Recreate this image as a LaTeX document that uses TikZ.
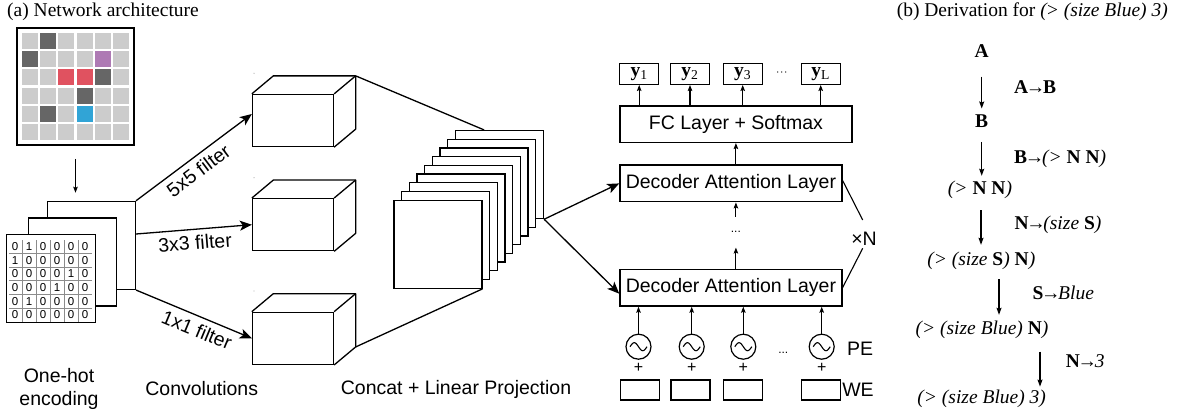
\documentclass[tikz,border=0pt]{standalone}
\usepackage{fontspec}
\setmainfont{Liberation Serif}
\newfontfamily\arial{Liberation Sans}
\usetikzlibrary{arrows.meta,calc}
\definecolor{cellgrey}{HTML}{CCCCCC}
\definecolor{celldark}{HTML}{666666}
\definecolor{cellpurple}{HTML}{AE7AB4}
\definecolor{cellred}{HTML}{E05260}
\definecolor{cellblue}{HTML}{31A4D6}
\definecolor{gridgrey}{HTML}{8C8C8C}
\newcommand\rarr{\kern-0.12em→\kern-0.12em}
\tikzset{
 ln/.style={line width=1.3pt},
 bigarr/.style={ln,-{Stealth[length=12pt,width=10pt,inset=3pt]}},
 smallarr/.style={line width=1.1pt,-{Stealth[length=6pt,width=4.5pt,inset=1pt]}},
 darr/.style={line width=1.1pt,-{Stealth[length=7pt,width=5pt,inset=1pt]}},
 box/.style={draw,ln,fill=white,inner sep=0pt},
 sans/.style={font=\arial\fontsize{19.5}{23}\selectfont},
 serif/.style={font=\rmfamily\fontsize{19.5}{23}\selectfont},
 deriv/.style={serif,inner sep=0pt,text height=13.5pt,text depth=4.5pt},
 gridline/.style={draw=gridgrey,line width=0.8pt},
 digit/.style={font=\arial\fontsize{11.5}{13}\selectfont,inner sep=0pt},
}
\begin{document}
\begin{tikzpicture}[x=1pt,y=-1pt]
\useasboundingbox (0,0) rectangle (1177,412);

% titles
\node[serif,anchor=west,inner sep=0pt] (ta) at (7,12) {(a) Network architecture};
\node[serif,anchor=east,inner sep=0pt] (tb) at (1168,12) {(b) Derivation for \textit{(\kern-0.05em> (size Blue) 3)}};

% coloured input grid
\node[draw,line width=1.7pt,minimum width=117pt,minimum height=117pt,inner sep=0pt] (img) at (75.5,86.5) {};
\foreach \r in {0,...,5}{\foreach \c in {0,...,5}{
  \fill[cellgrey] (21.65+18.3*\c,32.65+18.3*\r) rectangle ++(16.2,16.2);}}
\foreach \r/\c/\col in {0/1/celldark,1/0/celldark,1/4/cellpurple,2/2/cellred,2/3/cellred,2/4/celldark,3/3/celldark,4/1/celldark,4/3/cellblue}{
  \fill[\col] (21.65+18.3*\c,32.65+18.3*\r) rectangle ++(16.2,16.2);}

% one-hot stack
\node[box,minimum width=88pt,minimum height=88pt] (ohb) at (91.4,245.4) {};
\node[box,minimum width=88pt,minimum height=88pt] (ohm) at (72.4,262) {};
\node[box,minimum width=89pt,minimum height=88pt] (ohf) at (51.2,278.5) {};
\foreach \i in {1,...,5}{
  \draw[gridline] (8+14*\i,240) -- (8+14*\i,321.5);
  \draw[gridline] (9,239.5+13.7*\i) -- (91.5,239.5+13.7*\i);}
\foreach \row [count=\r from 0] in {{0,1,0,0,0,0},{1,0,0,0,0,0},{0,0,0,0,1,0},{0,0,0,1,0,0},{0,1,0,0,0,0},{0,0,0,0,0,0}}{
  \foreach \d [count=\c from 0] in \row {
    \node[digit] (m\r\c) at (15+14*\c,246.4+13.7*\r) {\d};}}

\draw[smallarr,shorten <=13pt,shorten >=8pt] (img.south) -- (img.south |- ohb.north);

% cuboids
\foreach \n/\y/\dy in {cub1/120.5/73.3, cub2/224.7/177.7, cub3/338.3/291}{
  \node[box,minimum width=81pt,minimum height=52pt] (\n) at (293,\y) {};
  \draw[ln,line join=round] (\n.north west) -- ++(21.5,-18) -- ($(\n.north east)+(21.5,-18)$) -- ($(\n.south east)+(21.5,-18)$) -- (\n.south east);
  \draw[ln] (\n.north east) -- ++(21.5,-18);
  \fill[gray!55] (254,\dy) circle (0.7pt);
}

% filter arrows
\draw[bigarr] (ohb.north east) -- node[sans,sloped,below,pos=0.47,inner sep=5.5pt] (l5) {5x5 filter} ([yshift=6.5pt]cub1.west);
\draw[bigarr] ([yshift=11.4pt]ohb.east) -- node[sans,sloped,below,pos=0.5,inner sep=5.5pt] (l3) {3x3 filter} (cub2.west);
\draw[bigarr] (ohb.south east) -- node[sans,sloped,below,pos=0.57,inner sep=5.5pt] (l1) {1x1 filter} (cub3.west);

% stacked planes
\foreach \k in {8,7,...,0}{
  \node[box,minimum width=88pt,minimum height=88pt] (pl\k) at (437.9+7.7*\k,244.2-8.7*\k) {};}
\draw[ln] ($(cub1.north east)+(21.5,-18)$) -- ($(pl8.north west)+(29.3,0)$);
\draw[ln] ($(cub3.south east)+(21.5,-18)$) -- (pl0.south east);

% decoder
\node[box,sans,minimum width=222pt,minimum height=36.7pt] (dec1) at (730.9,183.4) {Decoder Attention Layer};
\node[box,sans,minimum width=222pt,minimum height=36.7pt] (dec2) at (730.9,287.7) {Decoder Attention Layer};
\node[box,sans,minimum width=232pt,minimum height=36.3pt] (fc) at (735.9,124.2) {FC Layer + Softmax};
\draw[bigarr] (pl8.south east) -- (dec1.west);
\draw[bigarr] (pl8.south east) -- ([yshift=-6pt]dec2.west);
\draw[smallarr] (dec1.north -| fc.south) -- (fc.south);
\node[font=\arial\fontsize{12}{14}\selectfont,minimum height=30.3pt,inner sep=0pt] (vd) at (735.9,232.2) {...};
\draw[smallarr] (vd.north) -- (vd.north |- dec1.south);
\draw[smallarr] (vd.south |- dec2.north) -- (vd.south);

\node[sans,inner sep=0pt] (xN) at (864,238.3) {×N};
\coordinate (xNt) at (862.7,220);
\coordinate (xNb) at (862.7,248.3);
\draw[line width=1.1pt] ([yshift=3pt]dec1.east) -- (xNt);
\draw[line width=1.1pt] (xNb) -- (dec2.east);

% outputs
\foreach \n/\x/\s in {y1/639.2/1, y2/690/2, y3/742.7/3, yL/820.7/L}{
  \node[box,serif,minimum width=39pt,minimum height=21pt] (\n) at (\x,73.8) {\textbf{y}\textsubscript{\s}};
  \draw[smallarr] (\n.south |- fc.north) -- (\n.south);}
\node[font=\arial\fontsize{12}{14}\selectfont,inner sep=0pt] (ydots) at (781.7,73) {$\cdot\!\cdot\!\cdot$};

% positional encodings + word embeddings
\foreach \n/\x/\w in {1/638.5/639.7, 2/691.7/690.5, 3/743.3/742.7, 4/821.7/821.2}{
  \node[draw,circle,line width=1.2pt,minimum size=25pt,inner sep=0pt] (pe\n) at (\x,346.7) {};
  \draw[line width=1.1pt,shift={(pe\n.center)}] plot[domain=-8.5:8.5,samples=41,smooth] (\x,{-4*sin(21.18*(\x+8.5))});
  \draw[smallarr] (pe\n.north) -- (pe\n.north |- dec2.south);
  \node[font=\arial\fontsize{16}{18}\selectfont,inner sep=0pt] (plus\n) at (\x,368.3) {+};
  \node[box,minimum width=39pt,minimum height=20pt] (we\n) at (\w,390) {};}
\node[font=\arial\fontsize{12}{14}\selectfont,inner sep=0pt] (pedots) at (783.3,353) {...};
\node[sans,inner sep=0pt] (pelab) at (860,348.3) {PE};
\node[sans,inner sep=0pt] (welab) at (858,390) {WE};

% bottom captions
\node[sans,align=center,inner sep=0pt] (cap1) at (59,389) {One-hot\\encoding};
\node[sans,inner sep=0pt] (cap2) at (201.7,388.3) {Convolutions};
\node[sans,inner sep=0pt] (cap3) at (456,389.3) {Concat + Linear Projection};

% derivation
\node[deriv] (dA) at (981.7,53.3) {\textbf{A}};
\node[deriv] (dB) at (981.7,122.7) {\textbf{B}};
\node[deriv] (d3) at (980,190) {\textit{(> \textup{\textbf{N N}})}};
\node[deriv] (d4) at (981.3,261) {\textit{(> (size \textup{\textbf{S}}) \textup{\textbf{N}})}};
\node[deriv] (d5) at (982,330) {\textit{(> (size Blue) \textup{\textbf{N}})}};
\node[deriv] (d6) at (981.7,399.3) {\textit{(> (size Blue) 3)}};

\node[deriv,anchor=west] (r1) at (1014,89.3) {\textbf{A\rarr B}};
\node[deriv,anchor=west] (r2) at (1014,159.3) {\textbf{B\rarr}\textit{(> \textup{\textbf{N N}})}};
\node[deriv,anchor=west] (r3) at (1014.3,225) {\textbf{N\rarr}\textit{(size \textup{\textbf{S}})}};
\node[deriv,anchor=west] (r4) at (1032.3,295) {\textbf{S\rarr}\textit{Blue}};
\node[deriv,anchor=west] (r5) at (1065.7,363.3) {\textbf{N\rarr}\textit{3}};

\coordinate (ax1) at (981.7,0);
\coordinate (ax3) at (981,0);
\coordinate (ax4) at (999,0);
\coordinate (ax5) at (1040,0);
\draw[darr,shorten <=14pt,shorten >=5pt] (dA.south -| ax1) -- (dB.north -| ax1);
\draw[darr,shorten <=10pt,shorten >=5pt] (dB.south -| ax1) -- (d3.north -| ax1);
\draw[darr,shorten <=11pt,shorten >=7pt] (d3.south -| ax3) -- (d4.north -| ax3);
\draw[darr,shorten <=9pt,shorten >=6pt] (d4.south -| ax4) -- (d5.north -| ax4);
\draw[darr,shorten <=12.5pt,shorten >=3.5pt] (d5.south -| ax5) -- (d6.north -| ax5);
\end{tikzpicture}
\end{document}
